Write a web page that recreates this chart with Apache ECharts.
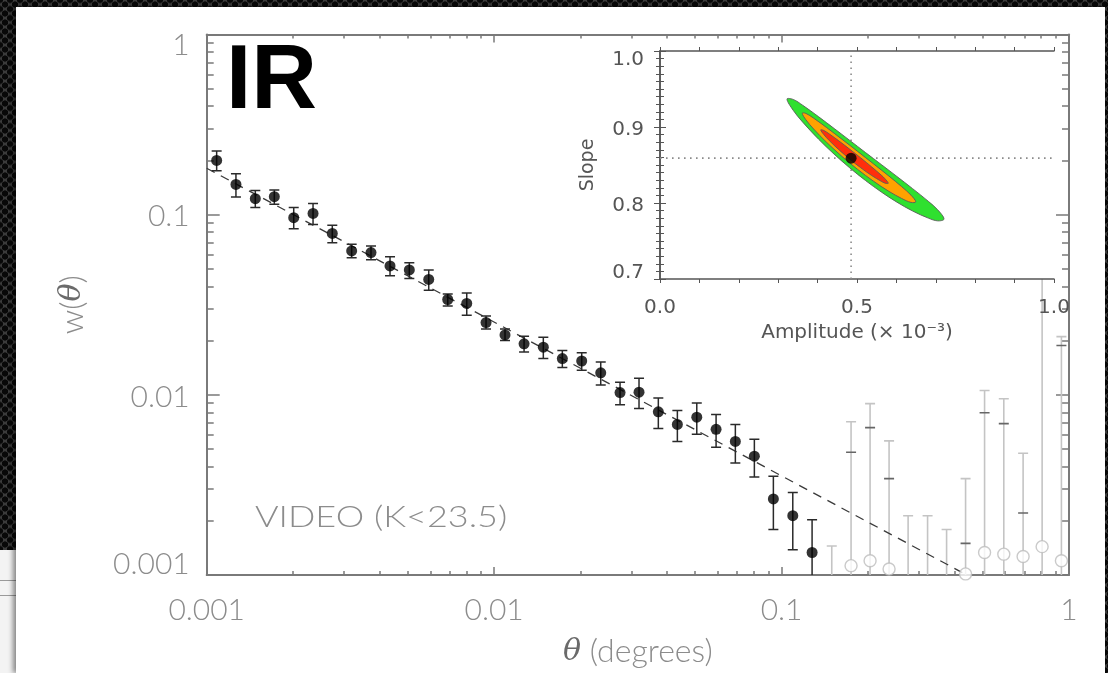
<!DOCTYPE html>
<html>
<head>
<meta charset="utf-8">
<script src="https://cdn.jsdelivr.net/npm/echarts@6/dist/echarts.min.js"></script>
<style>
html,body{margin:0;padding:0;width:1108px;height:673px;overflow:hidden;}
body{
  background-color:#3b3b3b;
  background-image:
    radial-gradient(circle at center, #080808 0, #080808 2.8px, rgba(0,0,0,0) 3.4px),
    radial-gradient(circle at center, #080808 0, #080808 2.8px, rgba(0,0,0,0) 3.4px);
  background-size:10px 9px, 10px 9px;
  background-position:0 0, 5px 4.5px;
}
#under{position:absolute;left:0;top:550px;width:20px;height:123px;background:#f3f3f3;}
#under .ln{position:absolute;left:0;width:20px;height:1px;background:#9a9a9a;}
#panel{position:absolute;left:16px;top:7px;width:1089px;height:666px;background:#ffffff;box-shadow:-3px 0 5px rgba(0,0,0,0.45);}
#chart{position:absolute;left:0;top:0;width:1108px;height:673px;}
</style>
</head>
<body>
<div id="under"><div class="ln" style="top:30px"></div><div class="ln" style="top:45px"></div></div>
<div id="panel"></div>
<div id="chart"></div>
<script>
// ---------------- data ----------------
const thetaBlack = [0.001083,0.001264,0.001476,0.001719,0.002008,0.002344,0.002735,0.003194,0.003729,0.004343,0.005069,0.005922,0.006896,0.008030,0.009372,0.01091,0.01271,0.01483,0.01727,0.02017,0.02349,0.02742,0.03192,0.03726,0.04340,0.05070,0.05918,0.06906,0.08042,0.09365,0.1094,0.1277];
const wBlack = [0.1999,0.1471,0.1227,0.1259,0.09625,0.1016,0.07867,0.06295,0.06162,0.05191,0.04935,0.04368,0.03382,0.03216,0.02519,0.02149,0.01919,0.01839,0.01589,0.01541,0.01325,0.01030,0.01035,0.008044,0.006854,0.007516,0.006435,0.005512,0.004565,0.002642,0.002133,0.001333];
const wBlackHi = [0.2256,0.1688,0.1363,0.1370,0.1096,0.1152,0.08736,0.06849,0.06707,0.05837,0.05412,0.04935,0.03630,0.03676,0.02741,0.02318,0.02112,0.02086,0.01764,0.01713,0.01522,0.01174,0.01235,0.009598,0.008176,0.009015,0.007774,0.006854,0.005675,0.003529,0.002874,0.002028];
const wBlackLo = [0.1753,0.1254,0.1096,0.1142,0.08340,0.08813,0.06989,0.05763,0.05620,0.04577,0.04423,0.03803,0.03110,0.02765,0.02318,0.02000,0.01727,0.01589,0.01418,0.01371,0.01135,0.008821,0.008386,0.006494,0.005512,0.006045,0.005110,0.004178,0.003503,0.001788,0.001379,0.0009];

const thetaGrey = [0.1495,0.1745,0.2032,0.2366,0.2756,0.3221,0.3751,0.4367,0.5085,0.5931,0.6924,0.8063,0.9410];
const wGreyHi = [0.001450,0.007093,0.008933,0.005554,0.002133,0.002133,0.001788,0.003428,0.01056,0.009512,0.004740,0.06,0.02104];
const wGreyMark = [null,0.004799,0.006577,0.003428,null,null,null,0.001498,0.007946,0.006917,0.002207,null,0.01878];
const wGreyCircle = [null,0.001127,0.001200,0.001080,null,null,null,0.001014,0.001333,0.001305,0.001267,0.001437,0.001200];

const fitTheta = [0.001, 0.441];
const fitW = [0.181, 0.001];

const xTickLabels = ['0.001','0.01','0.1','1'];
const yTickLabels = ['0.001','0.01','0.1','1'];

// inset (likelihood contours)
const bestAmp = 0.485, bestSlope = 0.859;
const greenAmp = [0.3223,0.3383,0.3622,0.4020,0.4419,0.4817,0.5216,0.5614,0.6013,0.6411,0.6810,0.7049,0.7208,0.7049,0.6810,0.6411,0.6013,0.5614,0.5216,0.4817,0.4419,0.4020,0.3622,0.3383];
const greenSlope = [0.9368,0.9362,0.9286,0.9137,0.8981,0.8823,0.8664,0.8507,0.8349,0.8189,0.8022,0.7910,0.7789,0.7765,0.7801,0.7895,0.8011,0.8146,0.8296,0.8462,0.8643,0.8842,0.9064,0.9218];
const orangeAmp = [0.3610,0.3702,0.3901,0.4220,0.4618,0.5016,0.5415,0.5813,0.6132,0.6371,0.6491,0.6371,0.6132,0.5813,0.5415,0.5016,0.4618,0.4220,0.3901,0.3702];
const orangeSlope = [0.9181,0.9179,0.9116,0.8996,0.8839,0.8679,0.8517,0.8353,0.8216,0.8103,0.8015,0.8008,0.8060,0.8152,0.8288,0.8442,0.8613,0.8803,0.8973,0.9096];
const redAmp = [0.4080,0.4160,0.4299,0.4538,0.4817,0.5096,0.5375,0.5614,0.5714,0.5794,0.5714,0.5614,0.5375,0.5096,0.4817,0.4538,0.4299,0.4160];
const redSlope = [0.8962,0.8954,0.8908,0.8818,0.8707,0.8593,0.8474,0.8367,0.8317,0.8260,0.8261,0.8286,0.8361,0.8463,0.8577,0.8702,0.8820,0.8899];
const contourColors = ['#2fe02f','#ffa200','#ff2e0c'];

const insetXTicks = [0, 0.5, 1.0];
const insetXTickLabels = ['0.0','0.5','1.0'];
const insetYTickLabels = ['0.7','0.8','0.9','1.0'];

// ---------------- styles ----------------
const LIGHT = '"DejaVu Sans ExtraLight", Lato, "DejaVu Sans", sans-serif';
const labelGrey = '#8c8c8c';
const axisGrey = '#7a7a7a';
const insetGrey = '#555555';
const insetFont = '"DejaVu Sans", sans-serif';
const LBL = 30;

const contours = [
  {amp: greenAmp, slope: greenSlope},
  {amp: orangeAmp, slope: orangeSlope},
  {amp: redAmp, slope: redSlope}
];

function errBars(color, capW, lw, lowerCap) {
  return function (params, api) {
    const x = api.value(0);
    const pHi = api.coord([x, api.value(1)]);
    const pLo = api.coord([x, api.value(2)]);
    const h = capW / 2;
    const st = {stroke: color, lineWidth: lw, fill: null};
    const ch = [
      {type: 'line', shape: {x1: pHi[0], y1: pHi[1], x2: pLo[0], y2: pLo[1]}, style: st},
      {type: 'line', shape: {x1: pHi[0] - h, y1: pHi[1], x2: pHi[0] + h, y2: pHi[1]}, style: st}
    ];
    if (lowerCap) ch.push({type: 'line', shape: {x1: pLo[0] - h, y1: pLo[1], x2: pLo[0] + h, y2: pLo[1]}, style: st});
    return {type: 'group', children: ch};
  };
}

const blackErrData = thetaBlack.map((t, i) => [t, wBlackHi[i], wBlackLo[i]]);
const blackPtData = thetaBlack.map((t, i) => [t, wBlack[i]]);
const greyBarData = thetaGrey.map((t, i) => [t, wGreyHi[i], 0.001]);
const greyMarkData = thetaGrey.map((t, i) => [t, wGreyMark[i]]).filter(d => d[1] !== null);
const greyCircleData = thetaGrey.map((t, i) => [t, wGreyCircle[i]]).filter(d => d[1] !== null);
const fitData = fitTheta.map((t, i) => [t, fitW[i]]);

function mainLogAxis(pos, isY) {
  return {
    type: 'log', logBase: 10, min: 0.001, max: 1, gridIndex: 0, position: pos,
    axisLine: {show: true, lineStyle: {color: axisGrey, width: 2}},
    axisTick: {show: true, inside: true, length: isY ? 13 : 8, lineStyle: {color: axisGrey, width: 1.5}},
    minorTick: {show: true, splitNumber: 9, length: isY ? 7 : 4, lineStyle: {color: axisGrey, width: 1.5}},
    splitLine: {show: false}, minorSplitLine: {show: false},
    axisLabel: {show: false}
  };
}

const xMain = mainLogAxis('bottom', false);
xMain.axisLabel = {
  show: true, margin: 20, color: labelGrey, fontSize: LBL, fontFamily: LIGHT, fontWeight: 300,
  showMinLabel: true, showMaxLabel: true,
  formatter: (v, i) => xTickLabels[i]
};
xMain.name = '{i|θ}{n| (degrees)}';
xMain.nameLocation = 'middle';
xMain.nameGap = 61;
xMain.nameTextStyle = {
  rich: {
    i: {fontFamily: '"DejaVu Serif", serif', fontStyle: 'italic', fontSize: 30, color: '#6a6a6a'},
    n: {fontFamily: LIGHT, fontWeight: 300, fontSize: 32, color: labelGrey}
  }
};
const xTop = mainLogAxis('top', false);

const yMain = mainLogAxis('left', true);
yMain.axisLabel = {
  show: true, margin: 17, color: labelGrey, fontSize: LBL, fontFamily: LIGHT, fontWeight: 300,
  showMinLabel: true, showMaxLabel: true,
  formatter: (v, i) => {
    const s = yTickLabels[i];
    if (i === 0) return '{lo|' + s + '}';
    if (i === yTickLabels.length - 1) return '{hi|' + s + '}';
    return '{m|' + s + '}';
  },
  rich: {
    lo: {padding: [0, 0, 22, 0], color: labelGrey, fontSize: LBL, fontFamily: LIGHT, fontWeight: 300},
    hi: {padding: [22, 0, 0, 0], color: labelGrey, fontSize: LBL, fontFamily: LIGHT, fontWeight: 300},
    m: {padding: [4, 0, 0, 0], color: labelGrey, fontSize: LBL, fontFamily: LIGHT, fontWeight: 300}
  }
};
yMain.name = '{n|w(}{i|θ}{n|)}';
yMain.nameLocation = 'middle';
yMain.nameGap = 118;
yMain.nameRotate = 90;
yMain.nameTextStyle = {
  rich: {
    i: {fontFamily: '"DejaVu Serif", serif', fontStyle: 'italic', fontSize: 30, color: '#6a6a6a'},
    n: {fontFamily: LIGHT, fontWeight: 300, fontSize: 32, color: labelGrey}
  }
};
const yRight = mainLogAxis('right', true);

function insetX(pos, showLabel) {
  return {
    type: 'value', min: 0, max: 1, interval: 0.1, gridIndex: 1, position: pos, z: 11,
    axisLine: {show: true, lineStyle: {color: insetGrey, width: 1.5}},
    axisTick: {show: true, inside: false, length: 4, lineStyle: {color: insetGrey, width: 1}},
    splitLine: {show: false},
    axisLabel: showLabel ? {
      show: true, margin: 19, color: insetGrey, fontSize: 20, fontFamily: insetFont,
      formatter: (v) => {
        const k = insetXTicks.findIndex(t => Math.abs(t - v) < 1e-6);
        return k >= 0 ? insetXTickLabels[k] : '';
      }
    } : {show: false}
  };
}
function insetY(pos, showLabel) {
  const st = {color: insetGrey, fontSize: 20, fontFamily: insetFont};
  return {
    type: 'value', min: 0.7, max: 1.0, interval: 0.1, gridIndex: 1, position: pos, z: 11,
    axisLine: {show: true, lineStyle: {color: insetGrey, width: 1.5}},
    axisTick: {show: true, inside: false, length: 6, lineStyle: {color: insetGrey, width: 1}},
    minorTick: {show: true, splitNumber: 10, length: 4, lineStyle: {color: insetGrey, width: 1}},
    splitLine: {show: false}, minorSplitLine: {show: false},
    axisLabel: showLabel ? {
      show: true, margin: 16, color: insetGrey, fontSize: 20, fontFamily: insetFont,
      showMinLabel: true, showMaxLabel: true,
      formatter: (v, i) => {
        const s = insetYTickLabels[i];
        if (i === 0) return '{lo|' + s + '}';
        if (i === insetYTickLabels.length - 1) return '{hi|' + s + '}';
        return '{m|' + s + '}';
      },
      rich: {
        lo: Object.assign({padding: [0, 0, 12, 0]}, st),
        hi: Object.assign({padding: [18, 0, 0, 0]}, st),
        m: Object.assign({padding: [5, 0, 0, 0]}, st)
      }
    } : {show: false}
  };
}
const xIn = insetX('bottom', true);
xIn.name = 'Amplitude (× 10⁻³)';
xIn.nameLocation = 'middle';
xIn.nameGap = 44;
xIn.nameTextStyle = {color: insetGrey, fontSize: 20, fontFamily: insetFont};
const yIn = insetY('left', true);
yIn.name = 'Slope';
yIn.nameLocation = 'middle';
yIn.nameGap = 62;
yIn.nameRotate = 90;
yIn.nameTextStyle = {color: insetGrey, fontSize: 19, fontFamily: insetFont};

const option = {
  animation: false,
  backgroundColor: 'transparent',
  grid: [
    {left: 206.7, top: 34.5, right: 39, bottom: 90.2, containLabel: false},
    {left: 660, top: 51, width: 394, height: 228, show: true, backgroundColor: '#ffffff', borderWidth: 0, z: 10}
  ],
  xAxis: [xMain, xTop, xIn, insetX('top', false)],
  yAxis: [yMain, yRight, yIn, insetY('right', false)],
  graphic: [
    {type: 'text', x: 226, y: 83, z: 20, style: {text: 'IR', fill: '#000', font: 'bold 91px "Liberation Sans", Arial, sans-serif', align: 'left', verticalAlign: 'middle'}},
    {type: 'text', x: 255, y: 517, z: 20, scaleX: 1.2, originX: 0, originY: 0,
     style: {text: 'VIDEO (K<23.5)', fill: labelGrey, fontSize: 30, fontFamily: LIGHT, fontWeight: 300, align: 'left', verticalAlign: 'middle'}}
  ],
  series: [
    {
      type: 'custom', name: 'grey bars', xAxisIndex: 0, yAxisIndex: 0, clip: true, z: 2,
      renderItem: errBars('#c4c4c4', 10, 1.6, false),
      encode: {x: 0, y: [1, 2]}, data: greyBarData
    },
    {
      type: 'custom', name: 'grey marks', xAxisIndex: 0, yAxisIndex: 0, clip: true, z: 3,
      renderItem: function (params, api) {
        const p = api.coord([api.value(0), api.value(1)]);
        return {type: 'line', shape: {x1: p[0] - 5, y1: p[1], x2: p[0] + 5, y2: p[1]}, style: {stroke: '#666', lineWidth: 1.6}};
      },
      encode: {x: 0, y: 1}, data: greyMarkData
    },
    {
      type: 'scatter', name: 'grey circles', xAxisIndex: 0, yAxisIndex: 0, clip: true, z: 3,
      symbol: 'circle', symbolSize: 12,
      itemStyle: {color: '#ffffff', borderColor: '#bdbdbd', borderWidth: 1.4},
      data: greyCircleData
    },
    {
      type: 'line', name: 'fit', xAxisIndex: 0, yAxisIndex: 0, clip: true, z: 2,
      showSymbol: false, symbol: 'none',
      lineStyle: {color: '#3a3a3a', width: 1.3, type: [9, 7]},
      data: fitData
    },
    {
      type: 'custom', name: 'black err', xAxisIndex: 0, yAxisIndex: 0, clip: true, z: 4,
      renderItem: errBars('#2a2a2a', 10, 1.5, true),
      encode: {x: 0, y: [1, 2]}, data: blackErrData
    },
    {
      type: 'scatter', name: 'w', xAxisIndex: 0, yAxisIndex: 0, clip: true, z: 5,
      symbol: 'circle', symbolSize: 11, itemStyle: {color: '#000'},
      data: blackPtData
    },
    // inset
    {
      type: 'custom', name: 'contours', xAxisIndex: 2, yAxisIndex: 2, z: 12, clip: true,
      renderItem: function (params, api) {
        const c = contours[params.dataIndex];
        const pts = c.amp.map((a, i) => api.coord([a, c.slope[i]]));
        return {type: 'polygon', shape: {points: pts, smooth: 0.35}, style: {fill: contourColors[params.dataIndex], stroke: '#5a5a5a', lineWidth: 0.9}};
      },
      encode: {x: 0, y: 1},
      data: contours.map(c => [c.amp[0], c.slope[0]])
    },
    {
      type: 'line', name: 'best amp', xAxisIndex: 2, yAxisIndex: 2, z: 11, showSymbol: false, symbol: 'none',
      lineStyle: {color: '#8a8a8a', width: 1.6, type: [1.6, 4.4]},
      data: [[bestAmp, 0.7], [bestAmp, 1.0]]
    },
    {
      type: 'line', name: 'best slope', xAxisIndex: 2, yAxisIndex: 2, z: 11, showSymbol: false, symbol: 'none',
      lineStyle: {color: '#8a8a8a', width: 1.6, type: [1.6, 4.4]},
      data: [[0, bestSlope], [1.0, bestSlope]]
    },
    {
      type: 'scatter', name: 'best', xAxisIndex: 2, yAxisIndex: 2, z: 13,
      symbol: 'circle', symbolSize: 11, itemStyle: {color: '#000'},
      data: [[bestAmp, bestSlope]]
    }
  ]
};

const chart = echarts.init(document.getElementById('chart'), null, {renderer: 'canvas'});
chart.setOption(option);
</script>
</body>
</html>
